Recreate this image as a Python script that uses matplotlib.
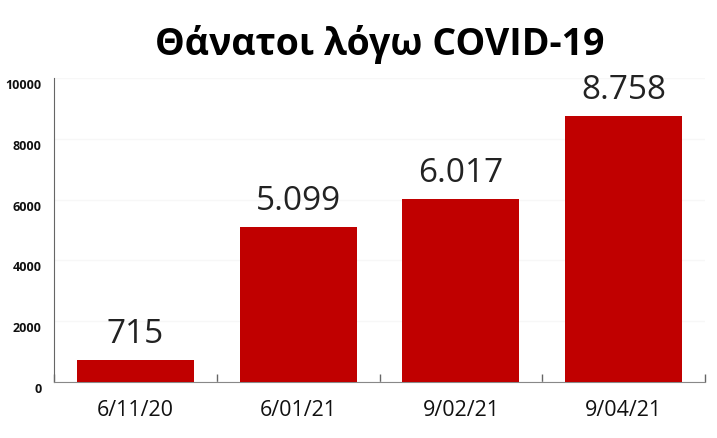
import matplotlib
matplotlib.use("Agg")
import matplotlib.pyplot as plt
import matplotlib.transforms as mtransforms
import numpy as np

categories = ["6/11/20", "6/01/21", "9/02/21", "9/04/21"]
values = [715, 5099, 6017, 8758]
value_labels = ["715", "5.099", "6.017", "8.758"]
yticks = [0, 2000, 4000, 6000, 8000, 10000]
title = "Θάνατοι λόγω COVID-19"

plt.rcParams['font.family'] = ['Open Sans', 'DejaVu Sans']

fig = plt.figure(figsize=(7.17, 4.38), dpi=100)
ax = fig.add_axes([54/717, (438-382)/438, (705-54)/717, (382-78)/438])

x = np.arange(len(categories))
ax.bar(x, values, width=0.72, color="#c00000", zorder=3)
ax.set_xlim(-0.5, len(categories) - 0.5)
ax.set_ylim(0, 10000)

for xi, v, lab in zip(x, values, value_labels):
    ax.annotate(lab, (xi, v), xytext=(0, 12.2), textcoords="offset points",
                ha="center", va="baseline", fontsize=24, color="#222222")

ax.set_yticks(yticks)
ax.set_yticklabels([str(t) for t in yticks], fontsize=9, fontweight="bold", color="#111111")
ax.tick_params(axis="y", length=0, pad=9)
offset = mtransforms.ScaledTranslation(0, -6/100, fig.dpi_scale_trans)
for lbl in ax.get_yticklabels():
    lbl.set_transform(lbl.get_transform() + offset)
ax.set_xticks(x)
ax.set_xticklabels(categories, fontsize=15.5, color="#111111")
ax.tick_params(axis="x", length=0, pad=13)
ax.set_xticks(np.arange(-0.5, len(categories), 1.0), minor=True)
ax.tick_params(axis="x", which="minor", direction="in", length=6, color="#666666", width=1)

ax.grid(axis="y", color="#f7f7f7", linewidth=1, zorder=0)
for s in ["top", "right"]:
    ax.spines[s].set_visible(False)
ax.spines["left"].set_color("#666666")
ax.spines["bottom"].set_color("#888888")

fig.text((54+705)/2/717, 1 - 45/438, title, ha="center", va="center",
         fontsize=27, fontweight="bold", color="#000000")

fig.savefig("out.png", dpi=100, facecolor="white")
